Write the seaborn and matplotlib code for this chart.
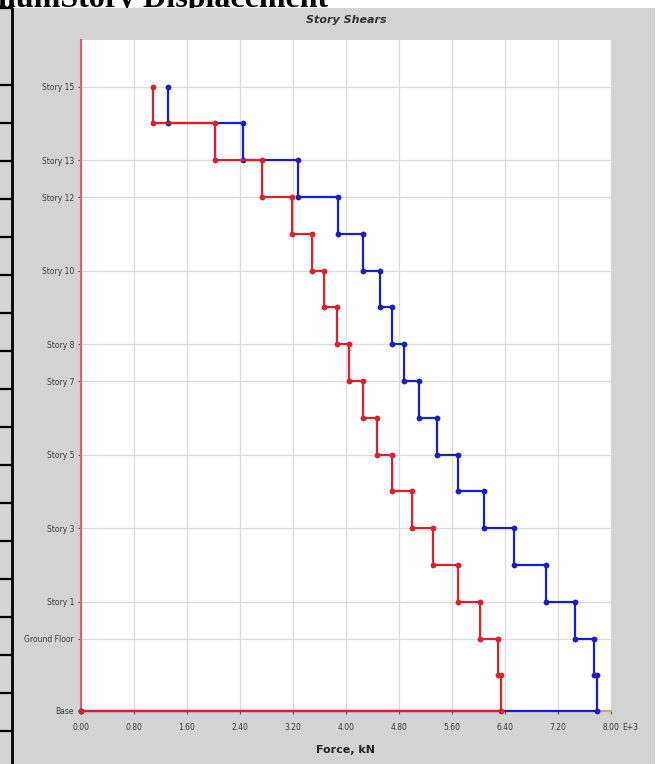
import numpy as np
import pandas as pd
import matplotlib
matplotlib.use("Agg")
import matplotlib.pyplot as plt
from matplotlib.patches import Rectangle
from matplotlib.lines import Line2D
import seaborn as sns

# ---------------- data ----------------
levels = ["Story 15", "Story 14", "Story 13", "Story 12", "Story 11", "Story 10",
          "Story 9", "Story 8", "Story 7", "Story 6", "Story 5", "Story 4",
          "Story 3", "Story 2", "Story 1", "Ground Floor", "B1", "Base"]
elevations = [50.9, 47.9, 44.9, 41.9, 38.9, 35.9, 32.9, 29.9, 26.9, 23.9,
              20.9, 17.9, 14.9, 11.9, 8.9, 5.9, 2.9, 0.0]
# story shear (x1000 kN) for each story, from Story 15 down to B1
shear_red = [1.09, 2.03, 2.73, 3.19, 3.48, 3.67, 3.86, 4.04, 4.26, 4.47,
             4.70, 4.99, 5.32, 5.69, 6.03, 6.30, 6.34]
shear_blue = [1.31, 2.44, 3.28, 3.88, 4.26, 4.51, 4.70, 4.88, 5.10, 5.37,
              5.69, 6.09, 6.54, 7.02, 7.45, 7.74, 7.79]
labelled_levels = ["Story 15", "Story 13", "Story 12", "Story 10", "Story 8",
                   "Story 7", "Story 5", "Story 3", "Story 1", "Ground Floor", "Base"]
x_ticks = [0.0, 0.8, 1.6, 2.4, 3.2, 4.0, 4.8, 5.6, 6.4, 7.2, 8.0]
cases = ["Blue", "Red"]


def step_rows(values, case):
    rows = []
    order = 0
    for i, v in enumerate(values):
        rows.append((case, order, v, elevations[i])); order += 1
        rows.append((case, order, v, elevations[i + 1])); order += 1
    rows.append((case, order, 0.0, elevations[-1]))
    return rows


rows = step_rows(shear_blue, "Blue") + step_rows(shear_red, "Red")
df = pd.DataFrame(rows, columns=["case", "order", "force", "elev"])

# ---------------- figure ----------------
sns.set_style("white")
W, H = 661, 764
fig = plt.figure(figsize=(W / 100, H / 100), dpi=100, facecolor="white")
fig.patches.append(Rectangle((0, 0), 655 / W, 1 - 8 / H, transform=fig.transFigure,
                             facecolor="#d3d3d3", edgecolor="none", zorder=-10))

# neighbouring table border on the left
fig.add_artist(Line2D([12 / W, 12 / W], [0, 1 - 8 / H], color="black", lw=2.0,
                      transform=fig.transFigure))
for yy in [8] + list(np.linspace(85, 731, 18)):
    fig.add_artist(Line2D([0, 12 / W], [1 - yy / H, 1 - yy / H], color="black", lw=1.6,
                          transform=fig.transFigure))

# cut off heading above (only its lower part is visible in the reference)
fig.text(328 / W, 1 - 7 / H, "MaximumStory Displacement", ha="right", va="baseline",
         family="Liberation Serif", fontweight="bold", fontsize=23, color="black",
         zorder=-20)

ax = fig.add_axes([81 / W, 1 - 711 / H, 530 / W, 671 / H])
ax.set_facecolor("white")

palette = {"Blue": "#1c1cc8", "Red": "#de1f30"}
sns.lineplot(data=df, x="force", y="elev", hue="case", hue_order=cases,
             palette=palette, sort=False, estimator=None, units="case",
             marker="o", markersize=4.2, markeredgewidth=0, linewidth=1.6,
             legend=False, ax=ax, clip_on=False, zorder=3)

ax.set_xlim(0, 8.0)
ax.set_ylim(0, 54.7)
ax.set_xticks(x_ticks)
ax.set_xticklabels([f"{v:.2f}" for v in x_ticks])
lab_elev = [elevations[levels.index(l)] for l in labelled_levels]
ax.set_yticks(lab_elev)
ax.set_yticklabels(labelled_levels)

ax.grid(True, color="#dcdcdc", linewidth=0.9)
ax.set_axisbelow(True)
for s in ["top", "right"]:
    ax.spines[s].set_visible(False)
ax.spines["left"].set_color("#d86070")
ax.spines["left"].set_linewidth(1.5)
ax.spines["bottom"].set_color("#d8a070")
ax.spines["bottom"].set_linewidth(1.5)

ax.tick_params(axis="both", which="both", length=2.5, width=0.8, color="#555555",
               labelsize=5.5, labelcolor="#3a3a3a", direction="out",
               left=True, bottom=True)
ax.tick_params(axis="x", pad=6.5)
ax.tick_params(axis="y", pad=2.5)

ax.set_xlabel("Force, kN", fontsize=8, fontweight="bold", color="#222222")
ax.xaxis.set_label_coords(0.5, -0.05)
ax.set_ylabel("")

# exponent note next to the last tick label, aligned with the tick labels
fig.canvas.draw()
tl = ax.get_xticklabels()[-1].get_window_extent()
fig.text((tl.x1 + 2.5) / W, (tl.y0 + tl.y1) / 2 / H, "E+3", ha="left", va="center",
         fontsize=5.5, color="#3a3a3a")
fig.text(346 / W, 1 - 20 / H, "Story Shears", ha="center", va="center", fontsize=8,
         fontweight="bold", fontstyle="italic", color="#333333")

fig.savefig("out.png", dpi=100, facecolor=fig.get_facecolor())
